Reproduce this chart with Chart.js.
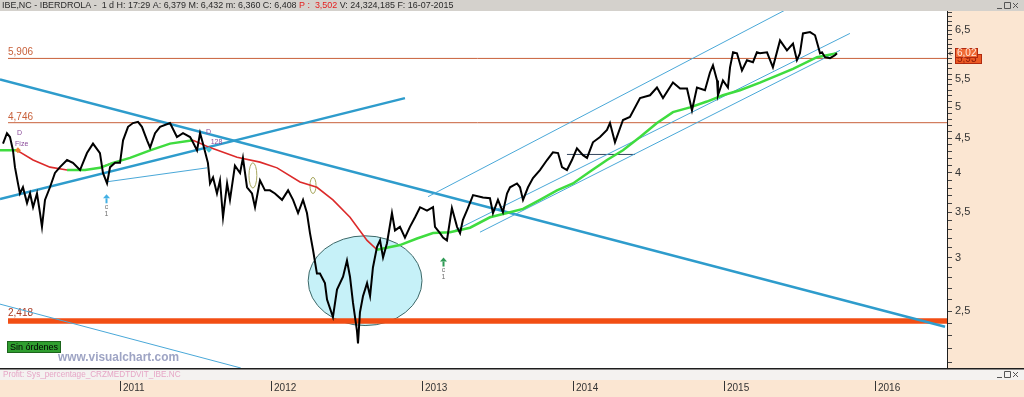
<!DOCTYPE html>
<html>
<head>
<meta charset="utf-8">
<script src="https://cdn.jsdelivr.net/npm/chart.js@4.4.0/dist/chart.umd.min.js"></script>
<style>
  html, body { margin: 0; padding: 0; background: #fff; }
</style>
</head>
<body>
<canvas id="myChart" width="1024" height="397"></canvas>
<script>
// IBE.NC daily price (t = fractional year)
const priceT = [2010.225, 2010.251, 2010.271, 2010.291, 2010.304, 2010.324, 2010.337, 2010.357, 2010.384, 2010.404,
  2010.424, 2010.450, 2010.470, 2010.483, 2010.503, 2010.536, 2010.569, 2010.602, 2010.649, 2010.688,
  2010.735, 2010.781, 2010.821, 2010.867, 2010.887, 2010.914, 2010.934, 2010.967, 2011.000, 2011.020,
  2011.053, 2011.086, 2011.119, 2011.145, 2011.179, 2011.199, 2011.232, 2011.265, 2011.331, 2011.377,
  2011.417, 2011.464, 2011.483, 2011.510, 2011.530, 2011.549, 2011.582, 2011.596, 2011.616, 2011.642,
  2011.662, 2011.682, 2011.709, 2011.728, 2011.761, 2011.795, 2011.814, 2011.841, 2011.874, 2011.894,
  2011.927, 2011.960, 2011.993, 2012.026, 2012.073, 2012.113, 2012.146, 2012.179, 2012.212, 2012.238,
  2012.258, 2012.278, 2012.304, 2012.324, 2012.357, 2012.371, 2012.410, 2012.437, 2012.477, 2012.503,
  2012.523, 2012.543, 2012.569, 2012.576, 2012.589, 2012.609, 2012.636, 2012.656, 2012.675, 2012.702,
  2012.722, 2012.742, 2012.768, 2012.801, 2012.821, 2012.854, 2012.887, 2012.920, 2012.954, 2012.987,
  2013.033, 2013.073, 2013.086, 2013.119, 2013.139, 2013.165, 2013.198, 2013.232, 2013.252, 2013.271,
  2013.304, 2013.338, 2013.404, 2013.450, 2013.470, 2013.503, 2013.536, 2013.563, 2013.583, 2013.629,
  2013.649, 2013.669, 2013.702, 2013.735, 2013.781, 2013.828, 2013.867, 2013.901, 2013.927, 2013.960,
  2013.993, 2014.026, 2014.066, 2014.093, 2014.132, 2014.179, 2014.225, 2014.245, 2014.278, 2014.331,
  2014.377, 2014.444, 2014.510, 2014.556, 2014.596, 2014.662, 2014.709, 2014.755, 2014.788, 2014.821,
  2014.874, 2014.907, 2014.927, 2014.954, 2014.960, 2014.993, 2015.026, 2015.040, 2015.060, 2015.086,
  2015.119, 2015.152, 2015.192, 2015.218, 2015.238, 2015.285, 2015.324, 2015.371, 2015.417, 2015.457,
  2015.483, 2015.503, 2015.523, 2015.570, 2015.603, 2015.622, 2015.636, 2015.649, 2015.669, 2015.702,
  2015.735, 2015.748];
const priceV = [4.42, 4.58, 4.52, 4.32, 4.08, 3.86, 3.73, 3.81, 3.61, 3.73,
  3.56, 3.73, 3.49, 3.33, 3.65, 3.81, 4.00, 4.08, 4.18, 4.14,
  4.04, 4.28, 4.42, 4.28, 4.00, 3.86, 4.08, 4.14, 4.14, 4.47,
  4.68, 4.74, 4.76, 4.68, 4.47, 4.36, 4.58, 4.68, 4.74, 4.52,
  4.58, 4.52, 4.44, 4.32, 4.58, 4.42, 4.14, 3.86, 3.94, 3.73,
  3.90, 3.44, 3.86, 3.65, 4.10, 4.00, 4.21, 3.81, 3.73, 3.56,
  3.90, 3.77, 3.77, 3.73, 3.65, 3.77, 3.65, 3.49, 3.65, 3.49,
  3.26, 3.08, 2.84, 2.84, 2.75, 2.60, 2.45, 2.69, 2.81, 2.97,
  2.81, 2.57, 2.34, 2.24, 2.49, 2.63, 2.75, 2.63, 2.90, 3.11,
  3.18, 3.00, 3.15, 3.49, 3.29, 3.33, 3.21, 3.33, 3.44, 3.56,
  3.52, 3.56, 3.33, 3.26, 3.21, 3.18, 3.55, 3.33, 3.26, 3.41,
  3.55, 3.71, 3.68, 3.67, 3.49, 3.65, 3.50, 3.73, 3.81, 3.86,
  3.81, 3.65, 3.81, 3.93, 4.04, 4.18, 4.29, 4.28, 4.08, 4.04,
  4.18, 4.35, 4.25, 4.21, 4.44, 4.52, 4.63, 4.74, 4.44, 4.79,
  4.84, 5.16, 5.21, 5.35, 5.16, 5.44, 5.33, 5.33, 4.95, 5.35,
  5.30, 5.63, 5.77, 5.48, 5.21, 5.48, 5.35, 5.73, 6.03, 6.01,
  5.67, 5.87, 5.83, 6.03, 6.01, 6.03, 5.73, 6.28, 6.07, 6.21,
  5.87, 6.01, 6.43, 6.46, 6.39, 6.17, 6.01, 6.03, 5.93, 5.91,
  5.97, 6.01];

// moving average (green above price, red below)
const maT = [2010.205, 2010.318, 2010.424, 2010.536, 2010.649, 2010.768, 2010.867, 2010.953, 2011.066, 2011.199,
  2011.331, 2011.483, 2011.596, 2011.775, 2011.927, 2012.040, 2012.192, 2012.304, 2012.410, 2012.523,
  2012.636, 2012.702, 2012.854, 2012.967, 2013.073, 2013.185, 2013.318, 2013.450, 2013.563, 2013.669,
  2013.781, 2013.894, 2014.000, 2014.113, 2014.225, 2014.331, 2014.444, 2014.556, 2014.662, 2014.775,
  2014.887, 2014.993, 2015.106, 2015.238, 2015.457, 2015.616, 2015.748];
const maV = [4.32, 4.32, 4.18, 4.08, 4.04, 4.04, 4.07, 4.14, 4.21, 4.32,
  4.42, 4.47, 4.36, 4.22, 4.15, 4.07, 3.88, 3.81, 3.65, 3.44,
  3.18, 3.08, 3.13, 3.20, 3.26, 3.27, 3.32, 3.44, 3.49, 3.54,
  3.65, 3.77, 3.86, 4.02, 4.18, 4.32, 4.52, 4.74, 4.92, 5.00,
  5.10, 5.21, 5.30, 5.44, 5.70, 5.93, 6.01];
const maRedRanges = [[1, 4], [6, 7], [11, 21]];

const levelValues = [5.906, 4.746, 2.418];
const levelLabels = ['5,906', '4,746', '2,418'];

// trend lines [start, end]
const downTrendT = [2010.205, 2016.464], downTrendV = [5.50, 2.37];
const upTrendT = [2010.205, 2012.887], upTrendV = [3.66, 5.16];
const lowParallelT = [2010.205, 2011.800], lowParallelV = [2.56, 2.06];
const supportT = [2010.907, 2011.576], supportV = [3.88, 4.07];
const channelTopT = [2013.040, 2015.404], channelTopV = [3.69, 6.96];
const channelAT = [2013.218, 2015.834], channelAV = [3.29, 6.43];
const channelBT = [2013.384, 2015.768], channelBV = [3.27, 6.07];
const flatT = [2013.960, 2014.411], flatV = [4.26, 4.26];

const yearTicks = [2011, 2012, 2013, 2014, 2015, 2016];
const priceTicks = [2.5, 3, 3.5, 4, 4.5, 5, 5.5, 6, 6.5];

const xMin = 2010.205, xMax = 2016.477;

function pts(ts, vs) {
  return ts.map((t, i) => ({ x: t, y: vs[i] }));
}

function maSeries(red) {
  return maT.map((t, i) => {
    const inRed = maRedRanges.some(([a, b]) => i >= a && i <= b);
    const inGreen = !maRedRanges.some(([a, b]) => i > a && i < b);
    return { x: t, y: (red ? inRed : inGreen) ? maV[i] : null };
  });
}

function line(data, color, width, order) {
  return { data, borderColor: color, borderWidth: width, pointRadius: 0, fill: false, tension: 0, order, spanGaps: false };
}

const fmt = (v) => String(v).replace('.', ',');

const datasets = [
  line(pts(priceT, priceV), '#000000', 2, 0),
  line(maSeries(false), '#3fdc3f', 2.5, 1),
  line(maSeries(true), '#dc2a2a', 1.6, 1),
  line(pts(channelAT, channelAV), '#4aa8d8', 1, 2),
  line(pts(channelBT, channelBV), '#4aa8d8', 1, 2),
  line(pts(channelTopT, channelTopV), '#4aa8d8', 1, 2),
  line(pts(supportT, supportV), '#4aa8d8', 1, 2),
  line(pts(lowParallelT, lowParallelV), '#4aa8d8', 1, 2),
  line(pts(flatT, flatV), '#33465e', 1, 2),
  line(pts(downTrendT, downTrendV), '#2e9ccc', 2.5, 3),
  line(pts(upTrendT, upTrendV), '#2e9ccc', 2.5, 3),
  line(pts([2010.258, xMax], [levelValues[0], levelValues[0]]), '#c8603a', 1, 4),
  line(pts([2010.258, xMax], [levelValues[1], levelValues[1]]), '#c8603a', 1, 4),
  line(pts([2010.258, xMax], [levelValues[2], levelValues[2]]), '#f24e14', 5.5, 4),
];

function fitFont(ctx, text, width, weight, base) {
  ctx.font = weight + ' ' + base + 'px "Liberation Sans"';
  const w = ctx.measureText(text).width;
  return weight + ' ' + (base * width / w).toFixed(2) + 'px "Liberation Sans"';
}

const drawing = {
  id: 'drawing',
  beforeDraw(chart) {
    const { ctx, chartArea: a, width, height } = chart;
    ctx.save();
    ctx.fillStyle = '#ffffff';
    ctx.fillRect(0, 0, width, height);
    ctx.fillStyle = '#fbe6d2';
    ctx.fillRect(a.right, a.top, width - a.right, a.bottom - a.top);
    ctx.fillRect(0, a.bottom + 12, width, height - a.bottom - 12);
    ctx.fillStyle = '#d4d1cc';
    ctx.fillRect(0, 0, width, a.top);
    ctx.fillStyle = '#f4f2f0';
    ctx.fillRect(0, a.bottom + 1, width, 11);
    ctx.fillStyle = '#1e1e1e';
    ctx.fillRect(0, a.bottom, width, 1.5);
    ctx.restore();
  },
  beforeDatasetsDraw(chart) {
    const { ctx, chartArea: a, scales: { x, y } } = chart;
    ctx.save();
    ctx.beginPath();
    ctx.rect(a.left, a.top, a.right - a.left, a.bottom - a.top);
    ctx.clip();
    const ell = (t, half, vTop, vBot, fill, stroke) => {
      const cx = x.getPixelForValue(t);
      const rx = x.getPixelForValue(t + half) - cx;
      const yt = y.getPixelForValue(vTop), yb = y.getPixelForValue(vBot);
      ctx.beginPath();
      ctx.ellipse(cx, (yt + yb) / 2, rx, (yb - yt) / 2, 0, 0, Math.PI * 2);
      if (fill) { ctx.fillStyle = fill; ctx.fill(); }
      ctx.strokeStyle = stroke;
      ctx.lineWidth = 1;
      ctx.stroke();
    };
    ell(2012.623, 0.377, 3.23, 2.38, '#c6f1f8', '#3d6868');
    ell(2011.880, 0.026, 4.14, 3.80, null, '#a8a860');
    ell(2012.278, 0.020, 3.94, 3.73, null, '#a8a860');

    // level labels
    ctx.font = '10px "Liberation Sans"';
    ctx.textBaseline = 'alphabetic';
    const levelColors = ['#c8603a', '#c8603a', '#a83a24'];
    levelValues.forEach((v, i) => {
      ctx.fillStyle = levelColors[i];
      ctx.fillText(levelLabels[i], 8, y.getPixelForValue(v) - (i === 2 ? 5 : 3));
    });
    ctx.restore();
  },
  afterDraw(chart) {
    const { ctx, chartArea: a, scales: { x, y }, width } = chart;
    ctx.save();

    // header
    const parts = [
      ['IBE,NC - IBERDROLA -  1 d H: 17:29 A: 6,379 M: 6,432 m: 6,360 C: 6,408 ', '#2a2a2a'],
      ['P :  3,502', '#e42020'],
      [' V: 24,324,185 F: 16-07-2015', '#2a2a2a'],
    ];
    ctx.font = fitFont(ctx, parts.map(p => p[0]).join(''), 452, '', 9);
    ctx.textBaseline = 'middle';
    let hx = 2;
    parts.forEach(([s, c]) => {
      ctx.fillStyle = c;
      ctx.fillText(s, hx, 5.5);
      hx += ctx.measureText(s).width;
    });

    // window buttons
    const buttons = (bx, by) => {
      ctx.strokeStyle = '#555';
      ctx.lineWidth = 1;
      ctx.beginPath();
      ctx.moveTo(bx, by + 6.5); ctx.lineTo(bx + 5, by + 6.5);
      ctx.rect(bx + 7.5, by + 0.5, 6, 6);
      ctx.moveTo(bx + 16, by + 1); ctx.lineTo(bx + 21, by + 6);
      ctx.moveTo(bx + 21, by + 1); ctx.lineTo(bx + 16, by + 6);
      ctx.stroke();
    };
    buttons(997, 2);
    buttons(997, a.bottom + 3);

    // profit caption
    ctx.fillStyle = '#e6a6c6';
    ctx.font = fitFont(ctx, 'Profit: Sys_percentage_CRZMEDTDVIT_IBE.NC', 178, '', 8);
    ctx.fillText('Profit: Sys_percentage_CRZMEDTDVIT_IBE.NC', 3, a.bottom + 7);

    // year tick marks
    ctx.fillStyle = '#333';
    yearTicks.forEach(t => {
      const px = Math.round(x.getPixelForValue(t));
      ctx.fillRect(px, a.bottom + 13, 1, 10);
    });

    ctx.beginPath();
    ctx.rect(a.left, a.top, a.right - a.left, a.bottom - a.top);
    ctx.clip();

    // signal arrows
    const arrow = (t, v, color) => {
      const px = Math.round(x.getPixelForValue(t)) + 0.5;
      const py = y.getPixelForValue(v);
      ctx.fillStyle = color;
      ctx.beginPath();
      ctx.moveTo(px, py); ctx.lineTo(px - 3.5, py + 4); ctx.lineTo(px + 3.5, py + 4);
      ctx.closePath(); ctx.fill();
      ctx.fillRect(px - 1, py + 4, 2, 5);
      ctx.fillStyle = '#707070';
      ctx.font = '7px "Liberation Sans"';
      ctx.textAlign = 'center';
      ctx.fillText('c', px, py + 13);
      ctx.fillText('1', px, py + 20);
      ctx.textAlign = 'left';
    };
    arrow(2010.907, 3.72, '#44b0e4');
    arrow(2013.139, 3.00, '#2f9a55');

    // small order marks
    const tag = (t, v, s, color) => {
      ctx.fillStyle = color;
      ctx.font = '7px "Liberation Sans"';
      ctx.fillText(s, x.getPixelForValue(t), y.getPixelForValue(v));
    };
    tag(2010.318, 4.58, 'D', '#8a4a9a');
    tag(2010.305, 4.42, 'Fize', '#8a4a9a');
    tag(2011.570, 4.60, 'D', '#8a4a9a');
    tag(2011.600, 4.45, '128', '#8a4a9a');
    const diamond = (t, v, color) => {
      const px = x.getPixelForValue(t), py = y.getPixelForValue(v);
      ctx.fillStyle = color;
      ctx.beginPath();
      ctx.moveTo(px, py - 3); ctx.lineTo(px + 3, py); ctx.lineTo(px, py + 3); ctx.lineTo(px - 3, py);
      ctx.closePath(); ctx.fill();
    };
    diamond(2010.324, 4.32, '#f08030');
    diamond(2011.589, 4.33, '#40c8d8');

    // no orders box
    ctx.fillStyle = '#2f9e2f';
    ctx.fillRect(7, 341, 54, 12);
    ctx.strokeStyle = '#1c641c';
    ctx.strokeRect(7.5, 341.5, 53, 11);
    ctx.fillStyle = '#000';
    ctx.font = '9px "Liberation Sans"';
    ctx.textBaseline = 'middle';
    ctx.fillText('Sin órdenes', 10, 347.5);

    // watermark
    ctx.fillStyle = '#9ea4c4';
    ctx.font = fitFont(ctx, 'www.visualchart.com', 121, 'bold', 12);
    ctx.fillText('www.visualchart.com', 58, 358);
    ctx.restore();

    // last price boxes on the axis
    ctx.save();
    const box = (v, label, fill, text, w, dy) => {
      const py = Math.round(y.getPixelForValue(v)) + dy;
      ctx.fillStyle = fill;
      ctx.fillRect(a.right + 8, py - 5, w, 10);
      ctx.strokeStyle = '#b02a10';
      ctx.strokeRect(a.right + 8.5, py - 4.5, w - 1, 9);
      ctx.fillStyle = text;
      ctx.font = '10px "Liberation Sans"';
      ctx.textBaseline = 'middle';
      ctx.fillText(label, a.right + 10, py + 0.5);
    };
    box(5.93, '5,93', '#ec5a24', '#8a1a0a', 27, 2);
    box(6.02, '6,02', '#f06a34', '#ffe8dc', 23, 0);
    ctx.strokeStyle = '#333';
    ctx.beginPath();
    const ay = Math.round(y.getPixelForValue(6.02)) + 0.5;
    ctx.moveTo(a.right + 6, ay); ctx.lineTo(a.right + 2, ay);
    ctx.moveTo(a.right + 4, ay - 2); ctx.lineTo(a.right + 2, ay); ctx.lineTo(a.right + 4, ay + 2);
    ctx.stroke();
    ctx.restore();
  }
};

const context = document.getElementById('myChart').getContext('2d');
Chart.defaults.font.family = '"Liberation Sans", Arial, sans-serif';

const chart = new Chart(context, {
  type: 'line',
  data: { datasets },
  options: {
    responsive: false,
    animation: false,
    devicePixelRatio: 1,
    layout: { padding: { top: 11, left: 0, right: 0, bottom: 0 } },
    plugins: { legend: { display: false }, tooltip: { enabled: false } },
    scales: {
      x: {
        type: 'linear',
        min: xMin,
        max: xMax,
        afterFit: (scale) => { scale.height = 29; },
        afterBuildTicks: (scale) => { scale.ticks = yearTicks.map(v => ({ value: v })); },
        grid: { display: false, drawTicks: false },
        border: { display: false },
        ticks: {
          align: 'start',
          labelOffset: 3,
          padding: 14,
          color: '#333',
          font: { size: 10 },
          maxRotation: 0,
          autoSkip: false,
          callback: (v) => String(v),
        },
      },
      y: {
        type: 'logarithmic',
        position: 'right',
        min: 2.06,
        max: 6.94,
        afterFit: (scale) => { scale.width = 77; },
        afterBuildTicks: (scale) => {
          const list = [];
          for (let k = 21; k <= 69; k++) list.push({ value: k / 10 });
          scale.ticks = list;
        },
        grid: { drawOnChartArea: false, drawTicks: true, tickLength: 5, tickColor: '#444' },
        border: { display: true, color: '#1e1e1e', width: 1 },
        ticks: {
          padding: 3,
          color: '#333',
          font: { size: 11 },
          autoSkip: false,
          callback: (v) => {
            const r = Math.round(v * 10) / 10;
            return priceTicks.includes(r) ? fmt(r) : '';
          },
        },
      },
    },
  },
  plugins: [drawing],
});
</script>
</body>
</html>
